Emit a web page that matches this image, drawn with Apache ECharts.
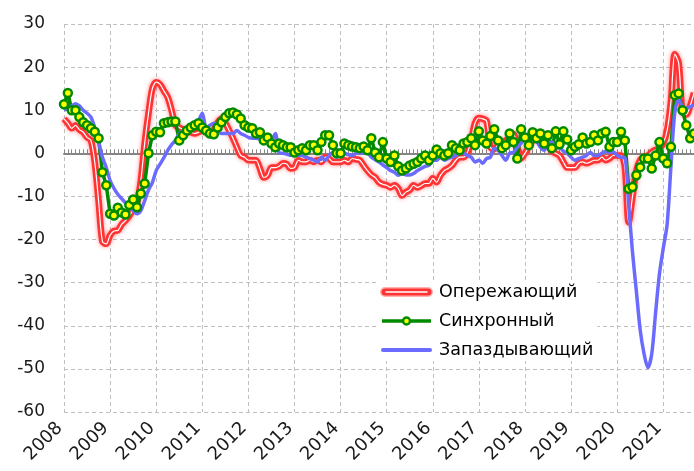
<!DOCTYPE html>
<html>
<head>
<meta charset="utf-8">
<script src="https://cdn.jsdelivr.net/npm/echarts@6/dist/echarts.min.js"></script>
<style>
    html, body { margin: 0; padding: 0; background: #fff; }
    #main { width: 694px; height: 471px; }
</style>
</head>
<body>
<div id="main"></div>
<script type="text/javascript">
// year tick labels, monthly data from 2008-01 to 2021-09
var years = ['2008','2009','2010','2011','2012','2013','2014','2015','2016','2017','2018','2019','2020','2021'];
var yTicks = [-60, -50, -40, -30, -20, -10, 0, 10, 20, 30];

var leading = [
    8, 7, 5.8, 6.5, 5.5, 4.9, 3.7, 3, -2, -11, -20.5, -21,
    -19, -18, -17.9, -16.5, -15.6, -14.5, -13, -11.6, -6.3, 2.3, 9.3, 15,
    16.5, 16, 14.5, 13, 10, 6.5, 6, 5.5, 5, 4.9, 4.6, 4.9,
    5.3, 5, 4.6, 5.5, 7.2, 8, 7, 5.3, 3.5, 1.4, -0.5, -0.9,
    -1.6, -1.6, -1.6, -3.5, -5.6, -5.1, -3.3, -3.3, -3, -2.3, -2.5, -3.5,
    -3.3, -1.6, -2, -2, -1.6, -2, -1.6, -2, -0.9, -1.2, -2, -2,
    -2, -1.6, -2, -1.2, -1.4, -1.6, -2.8, -4, -5, -5.6, -6.7, -7.2,
    -7.4, -7.9, -7.4, -8.1, -9.8, -9, -8.5, -7.4, -7.9, -7.5, -7, -7,
    -5.8, -6.7, -5.1, -4, -3.5, -2.8, -1.6, -0.9, -0.9, 0.2, 3, 7,
    8.2, 8, 7.5, 1.4, 1, 2, 2.5, 3, 3.5, 4.5, 1.4, -1.2,
    0, 1.5, 3, 4.6, 4.6, 3, 2, 0.5, 0, -0.5, -2, -3.3,
    -3.3, -3.3, -2.3, -2, -2.3, -2, -1.6, -1.6, -0.9, -1.6, -1.2, -0.5,
    -0.5, -0.5, -3.2, -16, -10, -4, -1.5, -0.9, -0.5, 0.3, 0.8, 1.2,
    2.3, 5.3, 12, 23, 21, 9.5, 9, 11, 14
];

var coincident = [
    11.4, 14, 10, 10, 8.4, 7.2, 6.5, 5.8, 5, 3.5, -4.4, -7.4,
    -14, -14.4, -12.6, -13.7, -14.2, -12, -10.7, -12.5, -9.3, -7, 0, 4.2,
    5, 4.9, 7, 7.2, 7.4, 7.4, 3, 4.2, 5.3, 6, 6.5, 7,
    6, 5.3, 4.6, 4.4, 6, 7.2, 8.4, 9.3, 9.5, 9, 8.1, 6.5,
    6, 5.8, 4.6, 4.9, 3, 3.7, 2.3, 1.4, 2.3, 1.9, 1.4, 1.4,
    0.2, 0.7, 1.2, 0.7, 1.9, 1.9, 0.7, 2.6, 4.2, 4.2, 1.9, 0,
    0, 2.3, 1.9, 1.6, 1.4, 1.2, 1.6, 0.7, 3.5, 0.2, -0.9, 2.6,
    -1.2, -2, -0.5, -3, -4, -3.5, -2.8, -2.4, -2, -1.2, -0.5, -1.6,
    -0.5, 0.9, 0, -0.5, 0, 1.9, 1.2, 0.7, 2.3, 2.6, 3.5, 1.9,
    5.1, 3, 2.3, 4, 5.6, 3, 1.2, 1.9, 4.6, 2.6, -1.2, 5.6,
    3.7, 1.9, 4.9, 3.5, 4.6, 2.3, 4.2, 1.2, 5.1, 2.1, 5.1, 3.2,
    0.7, 1.5, 2.1, 3.7, 2.3, 2.6, 4.2, 3, 4.6, 5, 1.5, 2.6,
    2.6, 5, 3, -8.2, -7.8, -5.1, -3.2, -1.2, -1.2, -3.5, -0.5, 2.6,
    -1.2, -2.3, 1.5, 13.5, 13.9, 10, 6.5, 3.5, 4.6
];

var lagging = [
    10, 10.5, 11, 11.5, 11, 10, 9.3, 8.4, 6, 2.6, -0.9, -3.3,
    -6.3, -8.1, -9.5, -10.5, -11.5, -12.5, -13.3, -14, -13.3, -11, -8.5, -6.8,
    -4, -2.5, -1, 0.7, 2, 3, 4.6, 5.3, 5.8, 6.2, 6.5, 7.5,
    9.3, 6, 6.5, 7, 5.3, 4.6, 4.6, 4.6, 4.6, 5.3, 4.6, 4.2,
    3.7, 3.5, 3.5, 3.3, 3, 3.7, 3, 4.6, 0.2, 0, -0.2, -0.5,
    0.2, -0.5, -0.5, -0.9, -1.2, -1.6, -2, -0.9, -1.6, -0.5, 0.2, -0.9,
    0, 0, -0.3, -0.5, 0, 0.2, 0, 0, -0.9, -1.5, -2, -2.7,
    -3.3, -4, -4.4, -5.1, -4.7, -5, -5, -4.7, -4, -3.5, -3, -2.8,
    -1.6, -1.6, -0.9, -1.6, -1.2, -0.9, -0.5, 0, 0, -0.5, -0.9, -2,
    -1.6, -2.3, -1.2, -0.9, 1.2, 0.7, -0.5, -1.6, 0, 0.2, 1.4, 2.3,
    3.5, 4.6, 4.9, 3, 1.4, 0.7, 2.3, 2.6, 1.2, 1.4, 0.5, 0,
    -0.9, -1.6, -1.2, -0.9, -0.5, 0.2, -0.5, -0.5, 0, 0.5, 0.3, 0.3,
    -0.5, -0.9, -1, -12, -23, -32, -41, -46.5, -49.7, -46.5, -37, -28,
    -22, -16.5, -3, 9.5, 12.5, 10.7, 10.5, 10.8, 11.2
];

var names = ['Опережающий', 'Синхронный', 'Запаздывающий'];

// one category per month
var months = [];
years.forEach(function (y) {
    for (var m = 1; m <= 12; m++) months.push(y + '-' + (m < 10 ? '0' + m : m));
});
months = months.slice(0, leading.length);

var isYear = function (idx) { return idx % 12 === 0; };

function svgIcon(body) {
    return 'image://data:image/svg+xml;charset=utf-8,' + encodeURIComponent(
        "<svg xmlns='http://www.w3.org/2000/svg' width='53' height='14'>" + body + "</svg>");
}
var redIcon = svgIcon(
    "<line x1='5' y1='7' x2='48' y2='7' stroke='#ffb0b0' stroke-width='10' stroke-linecap='round'/>" +
    "<line x1='5' y1='7' x2='48' y2='7' stroke='#ff3333' stroke-width='7' stroke-linecap='round'/>" +
    "<line x1='6' y1='7' x2='47' y2='7' stroke='#ffffff' stroke-width='1.5' stroke-linecap='round'/>");
var greenIcon = svgIcon(
    "<line x1='2' y1='7' x2='51' y2='7' stroke='#008a00' stroke-width='3.5'/>" +
    "<circle cx='26.5' cy='7' r='3.5' fill='#ffff00' stroke='#008a00' stroke-width='2.5'/>");
var blueIcon = svgIcon(
    "<line x1='3' y1='7' x2='50' y2='7' stroke='#6b6bff' stroke-width='4' stroke-linecap='round'/>");

var myChart = echarts.init(document.getElementById('main'));
var option = {
    animation: false,
    backgroundColor: '#fff',
    textStyle: { fontFamily: 'DejaVu Sans, Liberation Sans, sans-serif' },
    grid: { left: 64, right: 0, top: 24, bottom: 59 },
    legend: {
        orient: 'vertical',
        left: 378,
        top: 281,
        itemWidth: 53,
        itemHeight: 14,
        itemGap: 11,
        backgroundColor: '#fff',
        padding: [2, 4, 2, 2],
        textStyle: { fontSize: 17.5, color: '#000', padding: [0, 0, 0, 1] },
        data: [
            { name: names[0], icon: redIcon },
            { name: names[1], icon: greenIcon },
            { name: names[2], icon: blueIcon }
        ]
    },
    xAxis: [{
        type: 'category',
        data: months,
        boundaryGap: false,
        axisLine: { show: false, onZero: false },
        axisTick: { show: false },
        axisLabel: {
            interval: function (idx) { return isYear(idx); },
            formatter: function (v) { return v.slice(0, 4); },
            rotate: 45,
            fontSize: 18,
            color: '#1a1a1a',
            margin: 9,
            padding: [0, 6, 0, 0]
        },
        splitLine: {
            show: true,
            interval: function (idx) { return isYear(idx); },
            lineStyle: { color: '#bfbfbf', type: [4, 3], width: 1 }
        }
    }, {
        type: 'category',
        data: months,
        boundaryGap: false,
        position: 'bottom',
        axisLine: { show: true, onZero: true, lineStyle: { color: '#868686', width: 2 } },
        axisTick: { show: true, inside: true, interval: 0, length: 4, lineStyle: { color: '#868686', width: 1 } },
        axisLabel: { show: false },
        splitLine: { show: false }
    }],
    yAxis: {
        type: 'value',
        min: yTicks[0],
        max: yTicks[yTicks.length - 1],
        interval: 10,
        axisLine: { show: false },
        axisTick: { show: false },
        axisLabel: { fontSize: 17, color: '#1a1a1a', margin: 19 },
        splitLine: { lineStyle: { color: '#bfbfbf', type: [4, 3], width: 1 } }
    },
    series: [{
        name: names[0],
        type: 'line',
        data: leading,
        smooth: 0.3,
        symbol: 'none',
        lineStyle: { color: '#ff3333', width: 6.5, shadowBlur: 4, shadowColor: 'rgba(255,60,60,0.6)' },
        itemStyle: { color: '#ff3333' }
    }, {
        name: '',
        type: 'line',
        data: leading,
        smooth: 0.3,
        symbol: 'none',
        silent: true,
        lineStyle: { color: '#ffffff', width: 1.2 }
    }, {
        name: names[1],
        type: 'line',
        data: coincident,
        symbol: 'circle',
        symbolSize: 8,
        showAllSymbol: true,
        lineStyle: { color: '#008a00', width: 3.5 },
        itemStyle: { color: '#ffff00', borderColor: '#008a00', borderWidth: 2.5 }
    }, {
        name: names[2],
        type: 'line',
        data: lagging,
        smooth: 0.3,
        symbol: 'none',
        lineStyle: { color: '#6b6bff', width: 3.5 },
        itemStyle: { color: '#6b6bff' }
    }]
};
myChart.setOption(option);
</script>
</body>
</html>
